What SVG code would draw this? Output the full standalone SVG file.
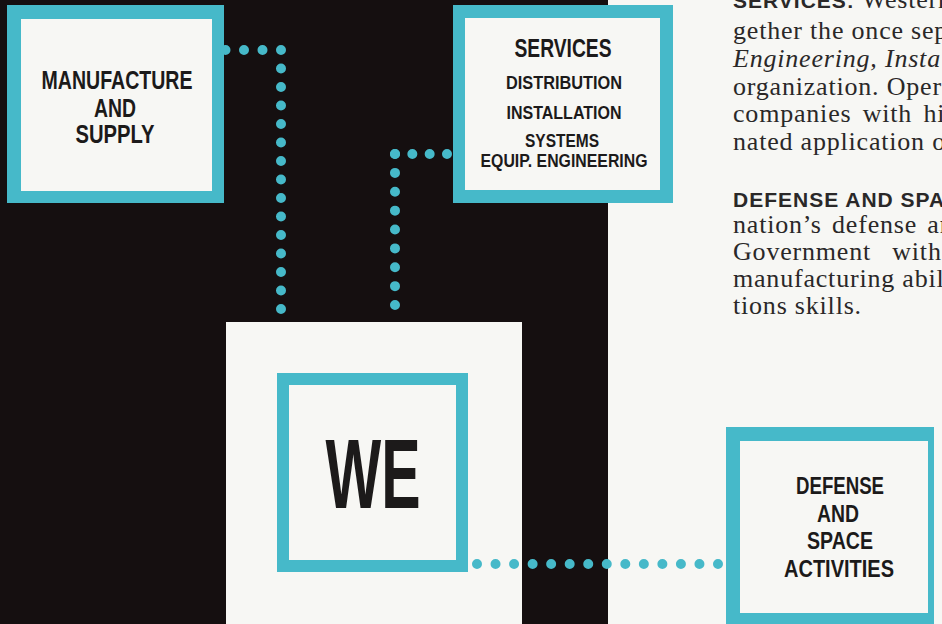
<svg xmlns="http://www.w3.org/2000/svg" width="942" height="624" viewBox="0 0 942 624">
<style>
.cy{fill:#46b9c9}
.wh{fill:#f7f7f4}
.lbl{font-family:"Liberation Sans",Arial,sans-serif;font-weight:bold;fill:#1c1a1a;text-anchor:middle}
.dot{fill:none;stroke:#46b9c9;stroke-width:10;stroke-linecap:round}
.body{font-family:"Liberation Serif","Times New Roman",serif;font-size:26px;fill:#2a2828;letter-spacing:0.8px}
.hd{font-family:"Liberation Sans",Arial,sans-serif;font-weight:bold;font-size:21px;fill:#2a2828;letter-spacing:1px}
</style>
<rect x="0" y="0" width="942" height="624" class="wh"/>
<rect x="0" y="0" width="608" height="624" fill="#150f10"/>

<g id="node-manufacture">
<rect x="7" y="5" width="217" height="198" class="cy"/>
<rect x="21" y="19" width="191" height="172" class="wh"/>
<text class="lbl" font-size="26" x="117" y="89" textLength="151" lengthAdjust="spacingAndGlyphs">MANUFACTURE</text>
<text class="lbl" font-size="26" x="115" y="117" textLength="42" lengthAdjust="spacingAndGlyphs">AND</text>
<text class="lbl" font-size="26" x="115" y="143" textLength="79" lengthAdjust="spacingAndGlyphs">SUPPLY</text>
</g>

<g id="node-services">
<rect x="453" y="5" width="220" height="198" class="cy"/>
<rect x="465" y="18" width="195" height="172" class="wh"/>
<text class="lbl" font-size="26" x="563" y="57" textLength="97" lengthAdjust="spacingAndGlyphs">SERVICES</text>
<text class="lbl" font-size="18" x="564" y="89" textLength="116" lengthAdjust="spacingAndGlyphs">DISTRIBUTION</text>
<text class="lbl" font-size="18" x="564" y="119" textLength="115" lengthAdjust="spacingAndGlyphs">INSTALLATION</text>
<text class="lbl" font-size="18" x="562" y="147" textLength="74" lengthAdjust="spacingAndGlyphs">SYSTEMS</text>
<text class="lbl" font-size="18" x="564" y="167" textLength="167" lengthAdjust="spacingAndGlyphs">EQUIP. ENGINEERING</text>
</g>

<g id="node-we">
<rect x="226" y="322" width="296" height="302" class="wh"/>
<rect x="277" y="373" width="191" height="199" class="cy"/>
<rect x="289" y="385" width="167" height="175" class="wh"/>
<text class="lbl" font-size="99" x="373" y="508" textLength="95" lengthAdjust="spacingAndGlyphs" fill="#161213">WE</text>
</g>

<g id="node-defense">
<rect x="726" y="427" width="208" height="210" class="cy"/>
<rect x="740" y="441" width="188" height="172" class="wh"/>
<text class="lbl" font-size="24" x="840" y="494" textLength="88" lengthAdjust="spacingAndGlyphs">DEFENSE</text>
<text class="lbl" font-size="24" x="838" y="522" textLength="42" lengthAdjust="spacingAndGlyphs">AND</text>
<text class="lbl" font-size="24" x="840" y="549" textLength="66" lengthAdjust="spacingAndGlyphs">SPACE</text>
<text class="lbl" font-size="24" x="839" y="577" textLength="110" lengthAdjust="spacingAndGlyphs">ACTIVITIES</text>
</g>

<g id="connectors">
<path class="dot" d="M225.5,50 H281 V309.5" stroke-dasharray="0 18.5"/>
<path class="dot" d="M447,154 H395" stroke-dasharray="0 17.33"/>
<path class="dot" d="M395,154 V305.5" stroke-dasharray="0 18.875"/>
<path class="dot" d="M477,564 H718.5" stroke-dasharray="0 18.538"/>
</g>

<g id="paragraphs">
<text x="733" y="8"><tspan class="hd">SERVICES:</tspan><tspan class="body"> Western</tspan></text>
<text class="body" x="733" y="39">gether the once sep</text>
<text class="body" x="733" y="67" font-style="italic">Engineering, Insta</text>
<text class="body" x="733" y="95">organization. Oper</text>
<text class="body" x="733" y="122" word-spacing="4">companies with hi</text>
<text class="body" x="733" y="150">nated application o</text>
<text class="hd" x="733" y="207">DEFENSE AND SPA</text>
<text class="body" x="733" y="233" word-spacing="3">nation’s defense an</text>
<text class="body" x="733" y="260" word-spacing="14">Government with</text>
<text class="body" x="733" y="287">manufacturing abil</text>
<text class="body" x="733" y="314">tions skills.</text>
</g>
</svg>
